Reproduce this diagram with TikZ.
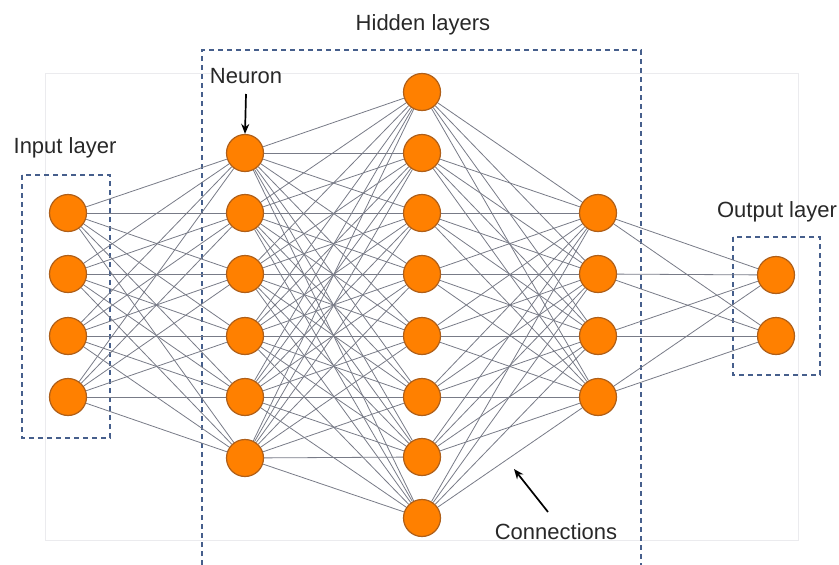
\documentclass[tikz,border=0pt]{standalone}
\usepackage{fontspec}
\setmainfont{Liberation Sans}
\usetikzlibrary{backgrounds,arrows.meta}
\definecolor{nodefill}{RGB}{255,128,0}
\definecolor{nodeedge}{RGB}{175,95,25}
\definecolor{linkgray}{RGB}{120,123,135}
\definecolor{boxblue}{RGB}{70,95,140}
\definecolor{textgray}{RGB}{40,40,40}
\definecolor{framegray}{RGB}{235,235,238}
\begin{document}
\begin{tikzpicture}[x=1pt,y=-1pt,
  neuron/.style={circle,draw=nodeedge,fill=nodefill,line width=1.2pt,minimum size=37pt,inner sep=0pt},
  link/.style={draw=linkgray,line width=0.8pt},
  layerbox/.style={draw=boxblue,dash pattern=on 5pt off 4pt,line width=1.1pt},
  caption/.style={font=\fontsize{22}{26}\selectfont,text=textgray,inner sep=0pt},
  pointer/.style={-{Stealth[length=10pt,width=8pt]},line width=1.7pt,black}]
\useasboundingbox (0,0) rectangle (839,565);

% neurons, one column per layer
\foreach \y [count=\i] in {213,274,336,397} \node[neuron] (a\i) at (68,\y) {};
\foreach \y [count=\i] in {153,213,274,336,397,458} \node[neuron] (b\i) at (245,\y) {};
\foreach \y [count=\i] in {92,153,213,274,336,397,457,518} \node[neuron] (c\i) at (422,\y) {};
\foreach \y [count=\i] in {213,274,336,397} \node[neuron] (d\i) at (598,\y) {};
\foreach \y [count=\i] in {275,336} \node[neuron] (e\i) at (776,\y) {};

\begin{pgfonlayer}{background}
  % light frame behind the network
  \draw[framegray,line width=0.8pt] (45,73) rectangle (798,540);
  % layer groupings
  \draw[layerbox] (22,175) rectangle (110,438);
  \draw[layerbox] (202,565) -- (202,50) -- (641,50) -- (641,565);
  \draw[layerbox] (733,237) rectangle (820,375);
  % fully connected links between consecutive layers
  \foreach \i in {1,...,4} \foreach \j in {1,...,6} \draw[link] (a\i) -- (b\j);
  \foreach \i in {1,...,6} \foreach \j in {1,...,8} \draw[link] (b\i) -- (c\j);
  \foreach \i in {1,...,8} \foreach \j in {1,...,4} \draw[link] (c\i) -- (d\j);
  \foreach \i in {1,...,4} \foreach \j in {1,...,2} \draw[link] (d\i) -- (e\j);
\end{pgfonlayer}

% captions
\node[caption] (inlab) at (65,148) {Input layer};
\node[caption] (hidlab) at (423,25) {Hidden layers};
\node[caption] (neulab) at (246,76) {Neuron};
\node[caption] (outlab) at (777,212) {Output layer};
\node[caption] (conlab) at (556,532) {Connections};

% pointers
\coordinate (neutail) at (246,94);
\draw[pointer] (neutail) -- (b1.north);
\coordinate (contail) at (548,512);
\coordinate (contip) at (514,469);
\draw[pointer] (contail) -- (contip);
\end{tikzpicture}
\end{document}
